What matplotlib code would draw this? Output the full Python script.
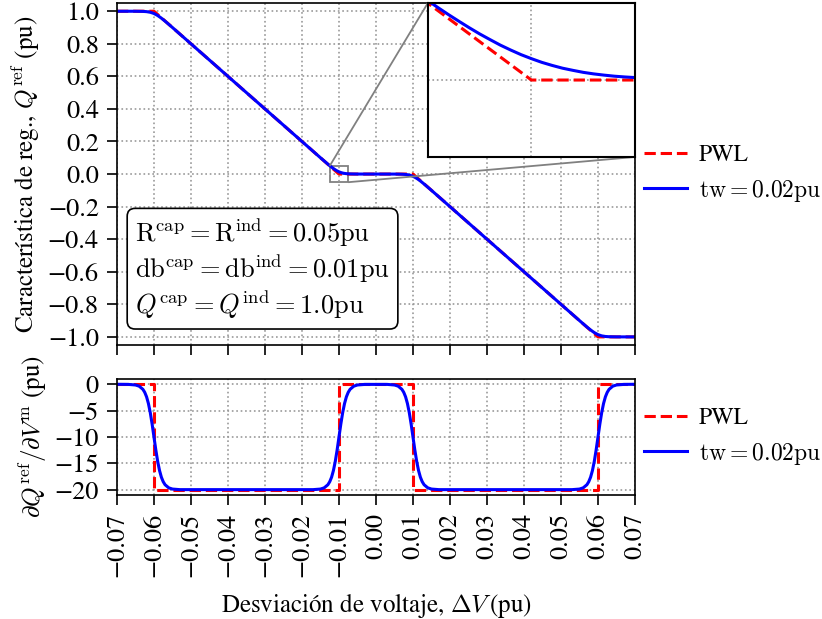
import matplotlib
matplotlib.use("Agg")
import matplotlib.pyplot as plt
from mpl_toolkits.axes_grid1.inset_locator import mark_inset

plt.rcParams['font.family'] = ['STIXGeneral', 'DejaVu Serif']
plt.rcParams['mathtext.fontset'] = 'cm'
plt.rcParams['axes.unicode_minus'] = True

# ---- data ----
x_pwl = [-0.07, -0.06, -0.01, 0.01, 0.06, 0.07]
q_pwl = [1.0, 1.0, 0.0, 0.0, -1.0, -1.0]

xd_pwl = [-0.07, -0.06, -0.06, -0.01, -0.01, 0.01, 0.01, 0.06, 0.06, 0.07]
d_pwl = [0, 0, -20, -20, 0, 0, -20, -20, 0, 0]

q_tw_points = [
    (-0.070, 1.0), (-0.065, 0.9999), (-0.063, 0.999), (-0.062, 0.9975),
    (-0.061, 0.9937), (-0.060, 0.9861), (-0.059, 0.9737), (-0.058, 0.9575),
    (-0.057, 0.939), (-0.055, 0.8999), (-0.015, 0.1001), (-0.013, 0.0610),
    (-0.0125, 0.0516), (-0.01225, 0.0470), (-0.012, 0.0425), (-0.01175, 0.0382),
    (-0.0115, 0.0340), (-0.01125, 0.0300), (-0.011, 0.0263), (-0.01075, 0.0227),
    (-0.0105, 0.0195), (-0.01025, 0.0165), (-0.010, 0.0139), (-0.00975, 0.0115),
    (-0.0095, 0.0095), (-0.00925, 0.0077), (-0.009, 0.0063), (-0.00875, 0.0050),
    (-0.0085, 0.0040), (-0.00825, 0.0032), (-0.008, 0.0025), (-0.00775, 0.0020),
    (-0.0075, 0.0016), (-0.007, 0.0010), (-0.006, 0.0004), (-0.005, 0.0001),
    (0.0, 0.0), (0.005, -0.0001), (0.006, -0.0004), (0.007, -0.0010),
    (0.0075, -0.0016), (0.008, -0.0025), (0.0085, -0.0040), (0.009, -0.0063),
    (0.0095, -0.0095), (0.010, -0.0139), (0.0105, -0.0195), (0.011, -0.0263),
    (0.0115, -0.0340), (0.012, -0.0425), (0.013, -0.0610), (0.015, -0.1001),
    (0.055, -0.8999), (0.057, -0.939), (0.058, -0.9575), (0.059, -0.9737),
    (0.060, -0.9861), (0.061, -0.9937), (0.062, -0.9975), (0.063, -0.999),
    (0.065, -0.9999), (0.070, -1.0),
]

d_tw_points = [
    (-0.070, 0.0), (-0.067, -0.02), (-0.065, -0.13), (-0.064, -0.36),
    (-0.063, -0.95), (-0.0625, -1.52), (-0.062, -2.38), (-0.0615, -3.65),
    (-0.061, -5.38), (-0.0605, -7.55), (-0.060, -10.0), (-0.0595, -12.45),
    (-0.059, -14.62), (-0.0585, -16.35), (-0.058, -17.62), (-0.0575, -18.48),
    (-0.057, -19.05), (-0.056, -19.64), (-0.055, -19.87), (-0.053, -19.98),
    (-0.017, -19.98), (-0.015, -19.87), (-0.014, -19.64), (-0.013, -19.05),
    (-0.0125, -18.48), (-0.012, -17.62), (-0.0115, -16.35), (-0.011, -14.62),
    (-0.0105, -12.45), (-0.010, -10.0), (-0.0095, -7.55), (-0.009, -5.38),
    (-0.0085, -3.65), (-0.008, -2.38), (-0.0075, -1.52), (-0.007, -0.95),
    (-0.006, -0.36), (-0.005, -0.13), (-0.003, -0.02),
    (0.003, -0.02), (0.005, -0.13), (0.006, -0.36), (0.007, -0.95),
    (0.0075, -1.52), (0.008, -2.38), (0.0085, -3.65), (0.009, -5.38),
    (0.0095, -7.55), (0.010, -10.0), (0.0105, -12.45), (0.011, -14.62),
    (0.0115, -16.35), (0.012, -17.62), (0.0125, -18.48), (0.013, -19.05),
    (0.014, -19.64), (0.015, -19.87), (0.017, -19.98),
    (0.053, -19.98), (0.055, -19.87), (0.056, -19.64), (0.057, -19.05),
    (0.0575, -18.48), (0.058, -17.62), (0.0585, -16.35), (0.059, -14.62),
    (0.0595, -12.45), (0.060, -10.0), (0.0605, -7.55), (0.061, -5.38),
    (0.0615, -3.65), (0.062, -2.38), (0.0625, -1.52), (0.063, -0.95),
    (0.064, -0.36), (0.065, -0.13), (0.067, -0.02), (0.070, 0.0),
]

x_ticks = [-0.07, -0.06, -0.05, -0.04, -0.03, -0.02, -0.01, 0.0,
           0.01, 0.02, 0.03, 0.04, 0.05, 0.06, 0.07]
q_ticks = [-1.0, -0.8, -0.6, -0.4, -0.2, 0.0, 0.2, 0.4, 0.6, 0.8, 1.0]
d_ticks = [-20, -15, -10, -5, 0]

label_pwl = 'PWL'
label_tw = r'$\mathrm{tw}=0.02\mathrm{pu}$'
box_text = (r'$\mathrm{R}^{\mathrm{cap}}=\mathrm{R}^{\mathrm{ind}}=0.05\mathrm{pu}$' + '\n'
            r'$\mathrm{db}^{\mathrm{cap}}=\mathrm{db}^{\mathrm{ind}}=0.01\mathrm{pu}$' + '\n'
            r'$Q^{\mathrm{cap}}=Q^{\mathrm{ind}}=1.0\mathrm{pu}$')

xq_tw, q_tw = zip(*q_tw_points)
xd_tw, d_tw = zip(*d_tw_points)

FS_TICK = 19
FS_LAB = 18
FS_LEG = 17
FS_BOX = 19
LW = 2.2

fig = plt.figure(figsize=(8.22, 6.19), dpi=100)
ax1 = fig.add_axes([0.1423, 0.4426, 0.6302, 0.5524])
ax2 = fig.add_axes([0.1423, 0.2003, 0.6302, 0.1874], sharex=ax1)

grid_kw = dict(color='0.6', linestyle=':', linewidth=1.2)

for ax in (ax1, ax2):
    for s in ax.spines.values():
        s.set_linewidth(1.2)
    ax.tick_params(labelsize=FS_TICK, width=1.2, length=7, pad=6)
    ax.grid(True, **grid_kw)

ax1.plot(x_pwl, q_pwl, color='red', linestyle='--', linewidth=LW, label=label_pwl)
ax1.plot(xq_tw, q_tw, color='blue', linewidth=LW, label=label_tw)
ax1.set_xlim(-0.07, 0.07)
ax1.set_ylim(-1.05, 1.05)
ax1.set_yticks(q_ticks)
ax1.set_yticklabels([f'{v:.1f}'.replace('-', '\u2212') for v in q_ticks])
ax1.tick_params(labelbottom=False)
ax1.set_ylabel(r'Característica de reg., $Q^{\mathrm{ref}}$ (pu)', fontsize=FS_LAB, labelpad=4)
ax1.legend(loc='center left', bbox_to_anchor=(1.0, 0.5), frameon=False, fontsize=FS_LEG,
           handlelength=1.8, handletextpad=0.5, borderaxespad=0.0)

ax1.text(0.035, 0.07, box_text, transform=ax1.transAxes, fontsize=FS_BOX,
         ha='left', va='bottom', linespacing=1.15,
         bbox=dict(boxstyle='round,pad=0.3', fc='white', ec='black', lw=1.2))

axins = ax1.inset_axes([0.6, 0.55, 0.4, 0.45])
axins.plot(x_pwl, q_pwl, color='red', linestyle='--', linewidth=LW)
axins.plot(xq_tw, q_tw, color='blue', linewidth=LW)
axins.set_xlim(-0.0125, -0.0075)
axins.set_ylim(-0.05, 0.05)
axins.set_xticks([-0.01])
axins.set_yticks([0.0])
axins.tick_params(labelbottom=False, labelleft=False, length=0)
axins.grid(True, **grid_kw)
for s in axins.spines.values():
    s.set_linewidth(1.5)
mark_inset(ax1, axins, loc1=2, loc2=4, fc='none', ec='0.5', lw=1.3)

ax2.plot(xd_pwl, d_pwl, color='red', linestyle='--', linewidth=LW, label=label_pwl)
ax2.plot(xd_tw, d_tw, color='blue', linewidth=LW, label=label_tw)
ax2.set_ylim(-21, 1)
ax2.set_yticks(d_ticks)
ax2.set_yticklabels([str(v).replace('-', '\u2212') for v in d_ticks])
ax2.set_xticks(x_ticks)
ax2.set_xticklabels([f'{v:.2f}'.replace('-', '\u2212') for v in x_ticks], rotation=90)
ax2.set_ylabel(r'$\partial Q^{\mathrm{ref}}/\partial V^{\mathrm{m}}$ (pu)', fontsize=FS_LAB, labelpad=4)
ax2.set_xlabel(r'Desviación de voltaje, $\Delta V\,$(pu)', fontsize=FS_LAB, labelpad=10)
ax2.legend(loc='center left', bbox_to_anchor=(1.0, 0.5), frameon=False, fontsize=FS_LEG,
           handlelength=1.8, handletextpad=0.5, borderaxespad=0.0)

fig.savefig('out.png', dpi=100)
